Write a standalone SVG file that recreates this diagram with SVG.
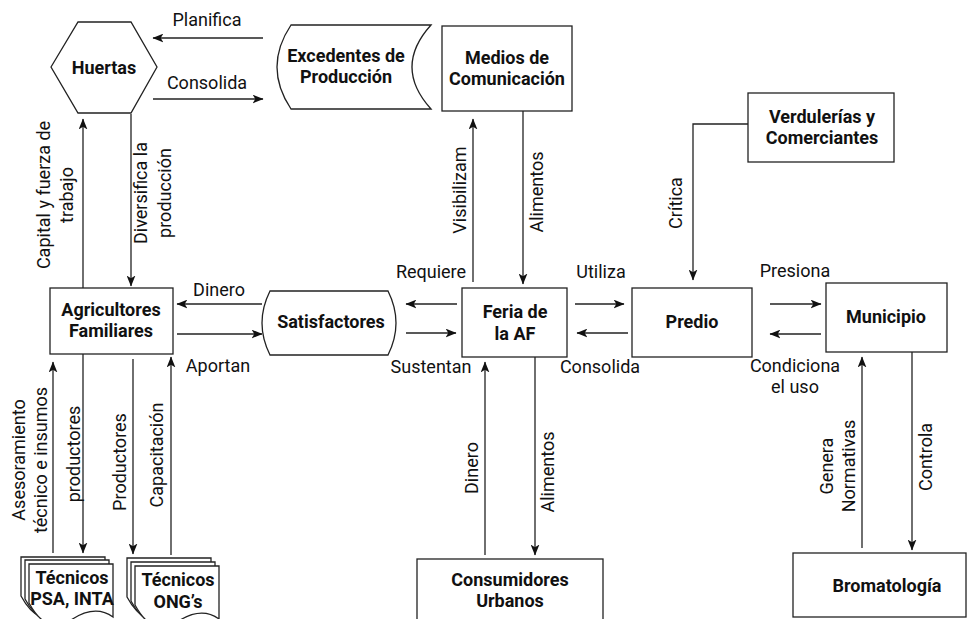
<svg xmlns="http://www.w3.org/2000/svg" width="973" height="619" viewBox="0 0 973 619">
  <defs>
    <style>
      .shape { fill: #ffffff; stroke: #222222; stroke-width: 1.3; }
      .edge { fill: none; stroke: #222222; stroke-width: 1.3; }
      .node-text { font-family: Roboto, "Liberation Sans", sans-serif; font-size: 18px; font-weight: bold; fill: #111111; text-anchor: middle; }
      .label { font-family: Roboto, "Liberation Sans", sans-serif; font-size: 18px; fill: #111111; text-anchor: middle; }
    </style>
    <marker id="arrow" viewBox="0 0 10 8" markerWidth="11" markerHeight="9" refX="9.5" refY="4" orient="auto" markerUnits="userSpaceOnUse">
      <path d="M0,0 L10,4 L0,8 L2.5,4 Z" fill="#111111"/>
    </marker>
    <!-- single sheet of a stacked-document shape, 84 wide, wavy bottom -->
    <path id="doc-sheet" d="M0,0 H84 V53 Q66,40 42,56 Q18,72 0,39 Z"/>
  </defs>

  <rect width="973" height="619" fill="#ffffff"/>

  <!-- connectors -->
  <g id="connectors">
    <path class="edge" d="M263,38 H153" marker-end="url(#arrow)"/>
    <path class="edge" d="M153,99 H263" marker-end="url(#arrow)"/>
    <path class="edge" d="M83,288 V119" marker-end="url(#arrow)"/>
    <path class="edge" d="M131,114 V286" marker-end="url(#arrow)"/>
    <path class="edge" d="M262,304 H177" marker-end="url(#arrow)"/>
    <path class="edge" d="M177,334 H262" marker-end="url(#arrow)"/>
    <path class="edge" d="M457,304 H406" marker-end="url(#arrow)"/>
    <path class="edge" d="M406,333 H456" marker-end="url(#arrow)"/>
    <path class="edge" d="M575,304 H624" marker-end="url(#arrow)"/>
    <path class="edge" d="M628,333 H577" marker-end="url(#arrow)"/>
    <path class="edge" d="M770,304 H821" marker-end="url(#arrow)"/>
    <path class="edge" d="M821,334 H770" marker-end="url(#arrow)"/>
    <path class="edge" d="M473,282 V119" marker-end="url(#arrow)"/>
    <path class="edge" d="M523,111 V284" marker-end="url(#arrow)"/>
    <path class="edge" d="M748,124 H693 V280" marker-end="url(#arrow)"/>
    <path class="edge" d="M485,555 V362" marker-end="url(#arrow)"/>
    <path class="edge" d="M535,357 V555" marker-end="url(#arrow)"/>
    <path class="edge" d="M862,548 V357" marker-end="url(#arrow)"/>
    <path class="edge" d="M912,352 V550" marker-end="url(#arrow)"/>
    <path class="edge" d="M53,553 V362" marker-end="url(#arrow)"/>
    <path class="edge" d="M83,354 V553" marker-end="url(#arrow)"/>
    <path class="edge" d="M133,359 V554" marker-end="url(#arrow)"/>
    <path class="edge" d="M171,555 V357" marker-end="url(#arrow)"/>
  </g>

  <!-- connector labels -->
  <g id="edge-labels">
    <text class="label" x="207" y="26">Planifica</text>
    <text class="label" x="207" y="89">Consolida</text>
    <text class="label" x="219" y="296">Dinero</text>
    <text class="label" x="218" y="372">Aportan</text>
    <text class="label" x="431" y="278">Requiere</text>
    <text class="label" x="431" y="373">Sustentan</text>
    <text class="label" x="601" y="278">Utiliza</text>
    <text class="label" x="600" y="373">Consolida</text>
    <text class="label" x="795" y="277">Presiona</text>
    <text class="label" x="795" y="372">Condiciona</text>
    <text class="label" x="795" y="393">el uso</text>

    <text class="label" transform="translate(50,195) rotate(-90)">Capital y fuerza de</text>
    <text class="label" transform="translate(73,195) rotate(-90)">trabajo</text>
    <text class="label" transform="translate(147,193) rotate(-90)">Diversifica la</text>
    <text class="label" transform="translate(171,193) rotate(-90)">producción</text>
    <text class="label" transform="translate(466,190) rotate(-90)">Visibilizam</text>
    <text class="label" transform="translate(543,192) rotate(-90)">Alimentos</text>
    <text class="label" transform="translate(682,203) rotate(-90)">Crítica</text>
    <text class="label" transform="translate(478,468) rotate(-90)">Dinero</text>
    <text class="label" transform="translate(554,472) rotate(-90)">Alimentos</text>
    <text class="label" transform="translate(833,466) rotate(-90)">Genera</text>
    <text class="label" transform="translate(855,466) rotate(-90)">Normativas</text>
    <text class="label" transform="translate(932,457) rotate(-90)">Controla</text>
    <text class="label" transform="translate(25,460) rotate(-90)">Asesoramiento</text>
    <text class="label" transform="translate(47,460) rotate(-90)">técnico e insumos</text>
    <text class="label" transform="translate(80,454) rotate(-90)">productores</text>
    <text class="label" transform="translate(126,462) rotate(-90)">Productores</text>
    <text class="label" transform="translate(163,455) rotate(-90)">Capacitación</text>
  </g>

  <!-- nodes -->
  <g id="huertas">
    <polygon class="shape" points="51,67 78,22 131,22 157,67 131,113 78,113"/>
    <text class="node-text" x="104" y="74">Huertas</text>
  </g>

  <g id="excedentes">
    <path class="shape" d="M291,25 H431 Q393,67 431,109 H291 Q263,67 291,25 Z"/>
    <text class="node-text" x="346" y="62">Excedentes de</text>
    <text class="node-text" x="346" y="83">Producción</text>
  </g>

  <g id="medios">
    <rect class="shape" x="442" y="26" width="130" height="85"/>
    <text class="node-text" x="507" y="64">Medios de</text>
    <text class="node-text" x="507" y="85">Comunicación</text>
  </g>

  <g id="verdulerias">
    <rect class="shape" x="748" y="93" width="146" height="69"/>
    <text class="node-text" x="822" y="123">Verdulerías y</text>
    <text class="node-text" x="822" y="144">Comerciantes</text>
  </g>

  <g id="agricultores">
    <rect class="shape" x="50" y="288" width="123" height="66"/>
    <text class="node-text" x="111" y="316">Agricultores</text>
    <text class="node-text" x="111" y="337">Familiares</text>
  </g>

  <g id="satisfactores">
    <path class="shape" d="M270,291 H388 Q404,323 388,355 H270 Q254,323 270,291 Z"/>
    <text class="node-text" x="331" y="328">Satisfactores</text>
  </g>

  <g id="feria">
    <rect class="shape" x="462" y="288" width="105" height="69"/>
    <text class="node-text" x="515" y="318">Feria de</text>
    <text class="node-text" x="515" y="340">la AF</text>
  </g>

  <g id="predio">
    <rect class="shape" x="632" y="288" width="120" height="69"/>
    <text class="node-text" x="692" y="328">Predio</text>
  </g>

  <g id="municipio">
    <rect class="shape" x="826" y="283" width="121" height="69"/>
    <text class="node-text" x="886" y="323">Municipio</text>
  </g>

  <g id="consumidores">
    <rect class="shape" x="417" y="559" width="186" height="64"/>
    <text class="node-text" x="510" y="586">Consumidores</text>
    <text class="node-text" x="510" y="607">Urbanos</text>
  </g>

  <g id="bromatologia">
    <rect class="shape" x="793" y="553" width="173" height="64"/>
    <text class="node-text" x="887" y="592">Bromatología</text>
  </g>

  <g id="tecnicos-psa">
    <use href="#doc-sheet" class="shape" x="21" y="557"/>
    <use href="#doc-sheet" class="shape" x="25" y="560"/>
    <use href="#doc-sheet" class="shape" x="29" y="564"/>
    <text class="node-text" x="72" y="584">Técnicos</text>
    <text class="node-text" x="72" y="605">PSA, INTA</text>
  </g>

  <g id="tecnicos-ong">
    <use href="#doc-sheet" class="shape" x="127" y="558"/>
    <use href="#doc-sheet" class="shape" x="131" y="562"/>
    <use href="#doc-sheet" class="shape" x="135" y="566"/>
    <text class="node-text" x="178" y="586">Técnicos</text>
    <text class="node-text" x="178" y="608">ONG’s</text>
  </g>
</svg>
